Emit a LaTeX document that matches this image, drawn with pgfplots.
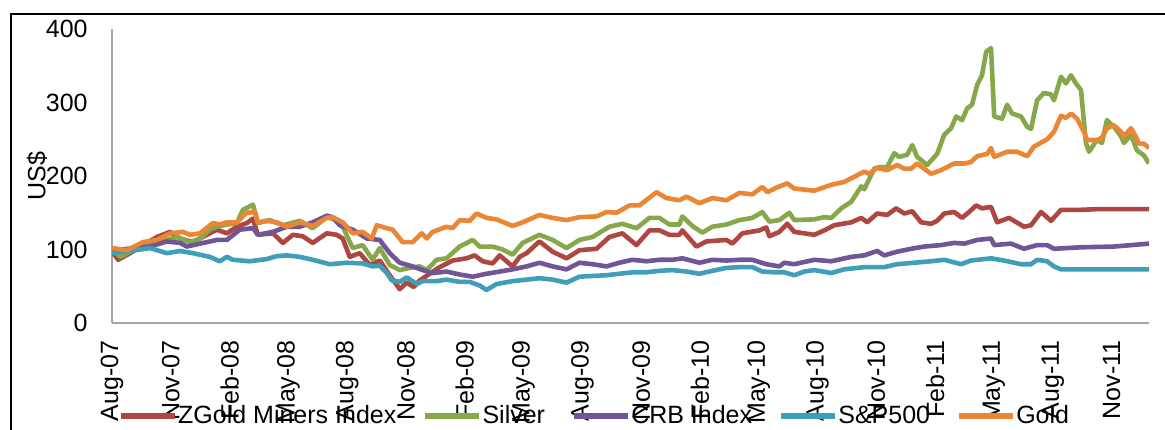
\documentclass[border=0pt]{standalone}
\usepackage{fontspec}
\setmainfont{Liberation Sans}
\usepackage{pgfplots}
\pgfplotsset{compat=1.18}
\definecolor{cMin}{RGB}{174,70,66}
\definecolor{cSil}{RGB}{134,168,74}
\definecolor{cCRB}{RGB}{112,86,150}
\definecolor{cSP}{RGB}{64,158,184}
\definecolor{cGold}{RGB}{234,134,52}
\definecolor{axgray}{RGB}{165,165,165}
\begin{document}
\begin{tikzpicture}
\useasboundingbox (0,0) rectangle (582.5pt,214.5pt);
\draw[line width=1.1pt] (5.5pt,-5pt) -- (5.5pt,207.5pt) -- (590pt,207.5pt);
\begin{axis}[
  at={(56pt,53pt)}, anchor=south west,
  scale only axis, width=518.5pt, height=147pt,
  xmin=0, xmax=52.91, ymin=0, ymax=400,
  axis lines*=left,
  axis line style={draw=axgray, line width=0.8pt},
  tick style={draw=none},
  ytick={0,100,200,300,400},
  xtick={0,3,...,51},
  xticklabels={Aug-07,Nov-07,Feb-08,May-08,Aug-08,Nov-08,Feb-09,May-09,Aug-09,Nov-09,Feb-10,May-10,Aug-10,Nov-10,Feb-11,May-11,Aug-11,Nov-11},
  xticklabel style={rotate=90, anchor=east, inner sep=0pt},
  xticklabel shift=8.5pt,
  yticklabel style={anchor=east, inner sep=0pt},
  yticklabel shift=12pt,
  tick label style={font=\fontsize{12.5}{15}\selectfont},
  /pgf/number format/assume math mode=true,
  every axis plot/.append style={line width=2.3pt, line join=round, mark=none},
  legend columns=5,
  legend style={draw=none, fill=none, at={(0.0058,-0.3163)}, anchor=west, inner sep=0pt, outer sep=0pt,
    font=\fontsize{12.5}{15}\selectfont, nodes={inner sep=0.5pt},
    /tikz/every even column/.append style={column sep=12.5pt}},
  legend image code/.code={\draw[#1, line width=2.6pt] (0pt,0pt) -- (27pt,0pt);},
]
\addplot[cMin] coordinates {(0,98) (0.31,86) (0.92,95) (1.58,106) (2.29,117) (2.96,124) (3.47,115) (4.13,110) (4.84,120) (5.35,127) (5.86,122) (6.37,131) (6.88,136) (7.19,142) (7.44,120) (8.21,122) (8.72,109) (9.23,120) (9.73,118) (10.24,109) (10.96,122) (11.47,120) (11.77,115) (12.13,90) (12.64,95) (13.15,79) (13.66,85) (14.17,65) (14.68,46) (15.04,55) (15.39,49) (15.70,58) (16.21,67) (16.72,76) (17.38,85) (18.09,88) (18.50,92) (18.91,84) (19.42,81) (19.78,92) (20.44,77) (20.80,90) (21.15,95) (21.81,111) (22.48,97) (23.19,88) (23.85,99) (24.72,101) (25.38,117) (26.04,122) (26.76,106) (27.42,126) (27.93,126) (28.44,120) (28.95,120) (29.10,126) (29.82,104) (30.33,111) (31.35,113) (31.65,108) (32.16,122) (33.03,126) (33.38,130) (33.54,118) (34.05,124) (34.45,135) (34.81,124) (35.32,122) (35.83,120) (36.34,126) (36.85,133) (37.72,137) (38.23,143) (38.53,137) (39.04,149) (39.55,147) (40.01,156) (40.42,149) (40.83,152) (41.28,137) (41.79,135) (42.10,139) (42.46,149) (42.97,151) (43.37,143) (43.73,151) (44.09,160) (44.39,156) (44.85,158) (45.16,137) (45.77,143) (46.53,131) (46.89,133) (47.40,151) (47.91,139) (48.42,154) (49.44,154) (50.36,155) (52.91,155)};
\addlegendentry{ZGold Miners Index}
\addplot[cSil] coordinates {(0,102) (0.41,90) (1.07,99) (1.94,106) (2.80,113) (3.31,117) (3.98,110) (4.49,115) (4.99,127) (5.35,131) (5.86,134) (6.37,136) (6.68,154) (7.19,161) (7.44,136) (8.05,140) (8.72,133) (9.58,139) (10.24,129) (10.96,144) (11.47,140) (11.77,131) (12.28,102) (12.79,106) (13.30,86) (13.66,102) (14.17,79) (14.68,72) (15.19,75) (15.70,77) (16.06,72) (16.56,86) (17.07,88) (17.74,104) (18.40,113) (18.76,104) (19.42,104) (19.93,100) (20.44,93) (20.95,109) (21.81,120) (22.48,113) (23.19,102) (23.85,113) (24.52,117) (25.38,131) (26.04,135) (26.76,129) (27.42,143) (27.93,143) (28.44,134) (28.95,134) (29.10,145) (29.61,132) (30.12,123) (30.63,131) (31.35,134) (32.01,140) (32.67,143) (33.18,151) (33.54,138) (34.05,140) (34.56,150) (34.81,140) (35.83,141) (36.34,144) (36.70,143) (37.21,156) (37.72,165) (38.23,186) (38.38,182) (38.89,210) (39.14,212) (39.55,212) (39.91,231) (40.16,226) (40.57,229) (40.83,242) (41.08,226) (41.59,215) (42.10,230) (42.46,256) (42.81,265) (43.07,281) (43.37,276) (43.63,292) (43.88,297) (44.14,324) (44.39,337) (44.60,369) (44.85,374) (45.01,281) (45.41,278) (45.67,297) (45.92,285) (46.38,281) (46.69,267) (46.89,264) (47.20,303) (47.55,313) (47.91,311) (48.06,303) (48.42,335) (48.67,326) (48.93,337) (49.18,326) (49.44,317) (49.69,245) (49.85,233) (50.25,249) (50.51,245) (50.76,276) (51.12,267) (51.48,254) (51.63,245) (51.99,256) (52.29,235) (52.65,228) (52.91,217)};
\addlegendentry{Silver}
\addplot[cCRB] coordinates {(0,98) (1.07,102) (1.94,104) (2.80,111) (3.47,109) (3.82,104) (4.49,108) (5.35,113) (5.86,113) (6.52,127) (7.19,129) (7.44,120) (8.21,124) (8.92,131) (9.58,131) (10.24,137) (10.96,146) (11.26,144) (11.62,133) (12.28,127) (13.00,115) (13.66,113) (14.17,95) (14.68,82) (15.34,77) (15.85,72) (16.36,68) (17.07,70) (17.74,66) (18.40,63) (19.11,67) (19.78,70) (20.44,73) (21.15,77) (21.81,82) (22.48,77) (23.19,73) (23.85,82) (24.52,80) (25.23,77) (25.89,82) (26.55,86) (27.27,84) (27.93,86) (28.59,86) (29.10,88) (29.97,82) (30.63,86) (31.35,85) (32.01,86) (32.67,86) (33.38,80) (34.05,77) (34.30,82) (34.81,80) (35.83,86) (36.70,84) (37.72,90) (38.38,92) (39.04,98) (39.40,92) (40.06,97) (40.77,101) (41.44,104) (42.30,106) (42.97,109) (43.48,108) (44.14,113) (44.85,115) (45.01,106) (45.87,108) (46.53,101) (47.20,106) (47.71,106) (48.06,101) (49.44,103) (51.12,104) (52.91,108)};
\addlegendentry{CRB Index}
\addplot[cSP] coordinates {(0,95) (0.92,98) (1.94,102) (2.80,95) (3.47,98) (4.13,95) (4.99,90) (5.50,84) (5.86,90) (6.17,86) (7.03,84) (7.90,87) (8.41,91) (8.92,92) (9.58,90) (10.24,86) (11.11,80) (11.98,82) (12.79,81) (13.30,77) (13.66,78) (14.02,68) (14.27,58) (14.68,56) (15.04,62) (15.55,53) (15.85,57) (16.56,57) (17.07,59) (17.74,56) (18.25,56) (18.76,51) (19.11,45) (19.62,53) (20.44,57) (21.15,59) (21.81,61) (22.48,59) (23.19,55) (23.85,63) (24.52,64) (25.23,65) (25.89,67) (26.55,69) (27.27,69) (27.93,71) (28.59,72) (29.31,70) (29.97,67) (30.63,71) (31.35,75) (32.01,76) (32.67,76) (33.18,70) (33.79,69) (34.30,69) (34.81,65) (35.32,70) (35.83,72) (36.70,68) (37.36,73) (38.38,76) (39.40,76) (40.06,80) (40.93,82) (41.79,84) (42.46,86) (43.32,80) (43.83,85) (44.85,88) (45.51,85) (46.38,80) (46.89,80) (47.20,86) (47.71,84) (48.06,77) (48.42,73) (52.91,73)};
\addlegendentry{S\&P500}
\addplot[cGold] coordinates {(0,102) (0.76,99) (1.58,110) (2.29,113) (2.96,122) (3.62,124) (3.98,120) (4.49,122) (5.15,136) (5.50,134) (5.86,137) (6.37,137) (6.88,150) (7.29,151) (7.44,137) (7.90,139) (8.41,137) (8.92,131) (9.58,137) (10.24,132) (10.96,143) (11.26,144) (11.77,137) (12.28,122) (12.79,124) (13.25,115) (13.51,133) (14.02,129) (14.32,127) (14.83,110) (15.34,110) (15.80,122) (16.06,115) (16.36,124) (17.07,131) (17.38,129) (17.74,140) (18.25,139) (18.60,149) (19.11,143) (19.62,141) (20.44,132) (20.95,137) (21.81,147) (22.48,143) (23.19,140) (23.85,144) (24.72,145) (25.23,151) (25.74,150) (26.40,160) (26.91,160) (27.78,178) (28.29,170) (28.95,167) (29.31,172) (29.97,163) (30.63,170) (31.35,167) (32.01,177) (32.67,175) (33.18,185) (33.44,178) (33.89,184) (34.45,190) (34.81,183) (35.83,180) (36.70,188) (37.36,192) (38.38,206) (38.63,203) (39.04,211) (39.55,208) (40.06,215) (40.42,210) (40.77,210) (41.08,217) (41.79,203) (42.30,208) (42.97,217) (43.48,217) (43.83,219) (44.14,227) (44.65,230) (44.85,238) (45.01,226) (45.67,233) (46.18,233) (46.69,227) (47.04,240) (47.71,250) (48.06,260) (48.42,282) (48.67,279) (48.93,285) (49.24,278) (49.59,260) (49.75,249) (50.25,249) (50.51,252) (50.76,265) (51.12,269) (51.48,260) (51.63,254) (51.99,265) (52.19,256) (52.40,244) (52.65,244) (52.91,238)};
\addlegendentry{Gold}
\end{axis}
\node[rotate=90, font=\fontsize{12.5}{15}\selectfont] at (18.5pt,126.5pt) {US\$};
\end{tikzpicture}
\end{document}
